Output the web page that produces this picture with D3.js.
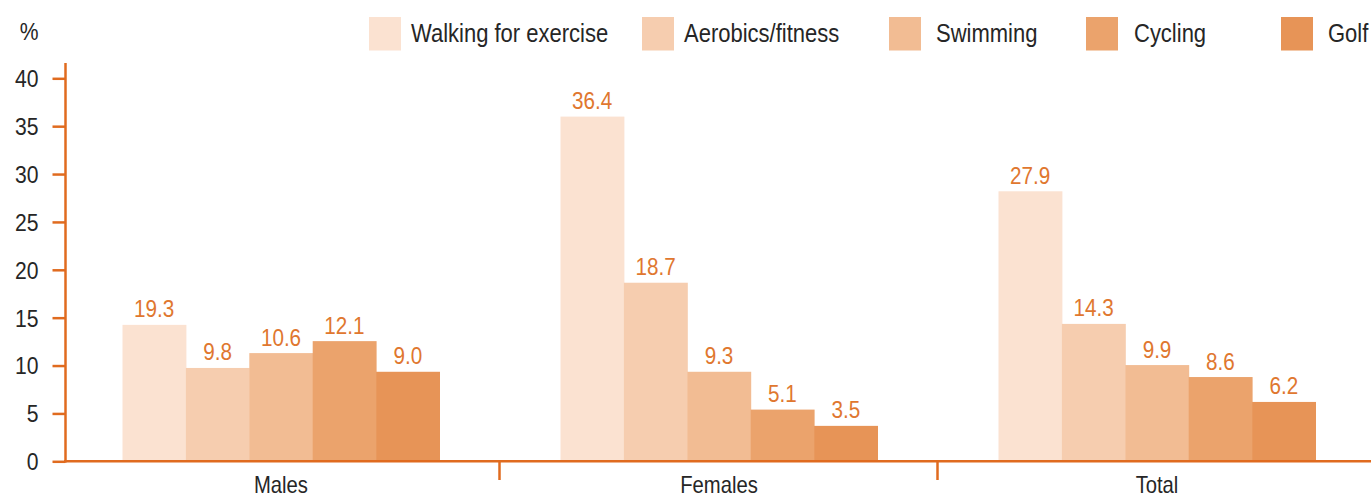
<!DOCTYPE html>
<html>
<head>
    <meta charset="utf-8">
    <title>Sport participation by sex</title>
    <style>
        body {
            margin: 0;
            background: #fff;
        }
        svg text {
            font-family: "Liberation Sans", Arial, sans-serif;
            fill: #262626;
        }
        .value-label {
            fill: #e0772f;
        }
    </style>
    <script src="https://d3js.org/d3.v7.min.js"></script>
</head>
<body>
<div id="chart"></div>
<script>
    // data
    const categories = ['Males', 'Females', 'Total'];
    const series = ['Walking for exercise', 'Aerobics/fitness', 'Swimming', 'Cycling', 'Golf'];
    // printed labels, by category then series
    const labels = [
        [19.3, 9.8, 10.6, 12.1, 9.0],
        [36.4, 18.7, 9.3, 5.1, 3.5],
        [27.9, 14.3, 9.9, 8.6, 6.2]
    ];
    // bar lengths as drawn in the original (they do not always agree with the labels)
    const barHeights = [
        [14.25, 9.75, 11.3, 12.55, 9.35],
        [36.0, 18.65, 9.35, 5.4, 3.7],
        [28.2, 14.35, 10.05, 8.8, 6.2]
    ];
    const yTicks = [0, 5, 10, 15, 20, 25, 30, 35, 40];
    const colors = ['#fbe2d1', '#f6cdaf', '#f2bc93', '#eba36c', '#e79457'];

    const width = 1371, height = 498;
    const axisColor = '#e06b1f';
    const SX = 0.88;   // no condensed font installed: squeeze Liberation Sans

    // place a text at (x, y) squeezed horizontally
    function squeeze(sel, fx, fy) {
        sel.attr('x', 0).attr('y', 0)
           .attr('transform', (d, i) => `translate(${fx(d, i)},${fy(d, i)}) scale(${SX},1)`);
    }

    const svg = d3.select('#chart').append('svg')
            .attr('width', width)
            .attr('height', height);

    const y = d3.scaleLinear()
            .domain([0, 40])
            .range([461.3, 78.3]);

    const x = d3.scaleBand()
            .domain(categories)
            .range([62, 1376]);

    const groupWidth = 317;
    const xs = d3.scaleBand()
            .domain(series)
            .range([0, groupWidth]);
    const groupOffset = (x.bandwidth() - groupWidth) / 2;

    // bars
    const groups = svg.selectAll('g.group')
            .data(categories)
            .enter().append('g')
            .attr('class', 'group')
            .attr('transform', c => `translate(${x(c) + groupOffset},0)`);

    const cells = (c, i) => series.map((s, j) => ({s: s, h: barHeights[i][j], v: labels[i][j], j: j}));

    groups.selectAll('rect')
            .data(cells)
            .enter().append('rect')
            .attr('x', d => xs(d.s))
            .attr('width', xs.bandwidth() + 0.5)
            .attr('y', d => y(d.h))
            .attr('height', d => y(0) - y(d.h))
            .style('fill', d => colors[d.j]);

    groups.selectAll('text.value-label')
            .data(cells)
            .enter().append('text')
            .attr('class', 'value-label')
            .attr('text-anchor', 'middle')
            .style('font-size', '23.5px')
            .text(d => d3.format('.1f')(d.v))
            .call(squeeze, d => xs(d.s) + xs.bandwidth() / 2, d => y(d.h) - 7.5);

    // y axis
    const yAxis = svg.append('g')
            .attr('transform', 'translate(65.5,0)')
            .call(d3.axisLeft(y).tickValues(yTicks).tickSize(13).tickPadding(13));
    yAxis.select('.domain').remove();
    yAxis.selectAll('.tick line')
            .style('stroke', axisColor)
            .style('stroke-width', 2.5);
    yAxis.selectAll('.tick text')
            .style('font-size', '24px')
            .attr('dy', '0.35em')
            .attr('x', -27 / SX)
            .attr('transform', `scale(${SX},1)`);

    svg.append('line')
            .attr('x1', 65.5).attr('x2', 65.5)
            .attr('y1', 63).attr('y2', y(0) + 1.25)
            .style('stroke', axisColor)
            .style('stroke-width', 2.5);

    svg.append('text')
            .attr('text-anchor', 'end')
            .style('font-size', '24px')
            .text('%')
            .call(squeeze, () => 38.5, () => 39.5);

    // x axis
    svg.append('line')
            .attr('x1', 64).attr('x2', width)
            .attr('y1', y(0)).attr('y2', y(0))
            .style('stroke', axisColor)
            .style('stroke-width', 2.5);

    svg.selectAll('line.divider')
            .data(categories.slice(1))
            .enter().append('line')
            .attr('class', 'divider')
            .attr('x1', c => x(c) - 0.5).attr('x2', c => x(c) - 0.5)
            .attr('y1', y(0)).attr('y2', 480)
            .style('stroke', axisColor)
            .style('stroke-width', 2.5);

    svg.selectAll('text.cat-label')
            .data(categories)
            .enter().append('text')
            .attr('class', 'cat-label')
            .attr('text-anchor', 'middle')
            .style('font-size', '23px')
            .text(c => c)
            .call(squeeze, c => x(c) + groupOffset + groupWidth / 2, () => 493);

    // legend
    const legendX = [369, 642, 889, 1086, 1281];
    const legendTextX = [411, 684, 936, 1134, 1328];

    const legend = svg.selectAll('g.legend')
            .data(series)
            .enter().append('g')
            .attr('class', 'legend');

    legend.append('rect')
            .attr('x', (_, i) => legendX[i])
            .attr('y', 17)
            .attr('width', 32)
            .attr('height', 33.5)
            .style('fill', (_, i) => colors[i]);

    legend.append('text')
            .style('font-size', '25px')
            .text(d => d)
            .call(squeeze, (_, i) => legendTextX[i], () => 42.3);
</script>
</body>
</html>
